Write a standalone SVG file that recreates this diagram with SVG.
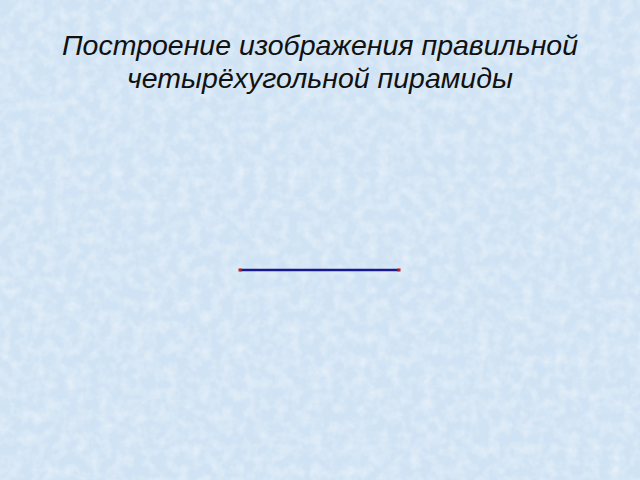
<svg xmlns="http://www.w3.org/2000/svg" width="640" height="480" viewBox="0 0 640 480">
<defs>
<style>
.title{font-family:"Liberation Sans",Arial,sans-serif;font-style:italic;font-size:28.5px;fill:#111111;text-anchor:middle}
.edge{stroke:#1a1a8c;stroke-width:2.5;fill:none}
.pt{fill:#c0201a}
</style>
<filter id="tex" x="0" y="0" width="100%" height="100%">
<feTurbulence type="fractalNoise" baseFrequency="0.09" numOctaves="3" seed="4" result="n"/>
<feColorMatrix in="n" type="matrix" values="0 0 0 0 1  0 0 0 0 1  0 0 0 0 1  0 0 0 0.8 -0.3" result="w"/>
<feComposite in="w" in2="SourceGraphic" operator="in"/>
</filter>
</defs>
<rect id="bg" x="0" y="0" width="640" height="480" fill="#d0e3f4"/>
<rect x="0" y="0" width="640" height="480" fill="#d0e3f4" filter="url(#tex)"/>
<g id="title">
<text class="title" x="320" y="55">Построение изображения правильной</text>
<text class="title" x="320" y="88">четырёхугольной пирамиды</text>
</g>
<g id="connectors">
<line class="edge" x1="240" y1="270" x2="399" y2="270"/>
</g>
<g id="pointA"><rect class="pt" x="238.5" y="268.5" width="3" height="3"/></g>
<g id="pointB"><rect class="pt" x="397.5" y="268.5" width="3" height="3"/></g>
</svg>
